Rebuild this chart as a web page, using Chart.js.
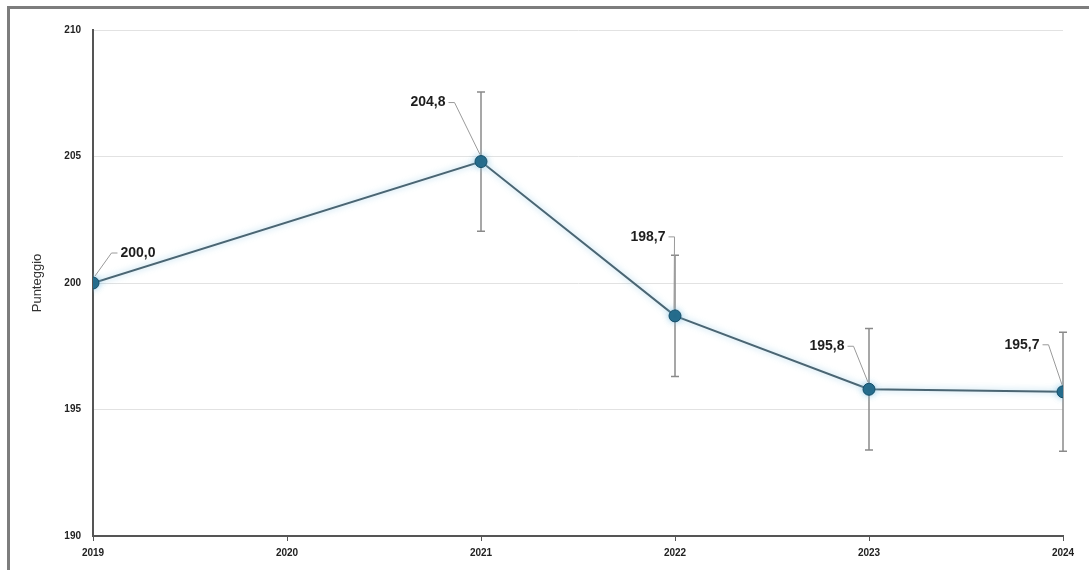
<!DOCTYPE html>
<html>
<head>
<meta charset="utf-8">
<script src="https://cdn.jsdelivr.net/npm/chart.js@4/dist/chart.umd.min.js"></script>
<style>
    body { margin: 0; background: #fff; }
    #wrap { position: relative; width: 1089px; height: 570px; }
    #cornice { position: absolute; left: 7px; top: 6px; right: 0; bottom: 0;
               border-top: 3px solid #7d7d7d; border-left: 3px solid #7d7d7d; pointer-events: none; }
</style>
</head>
<body>
<div id="wrap">
    <canvas id="chart" width="1089" height="570"></canvas>
    <div id="cornice"></div>
</div>
<script>
    const anni = [2019, 2021, 2022, 2023, 2024]
    const punteggi = [200.0, 204.8, 198.7, 195.8, 195.7]
    const errori = [0, 2.75, 2.4, 2.4, 2.35]
    const etichette = ['200,0', '204,8', '198,7', '195,8', '195,7']
    const tickY = [190, 195, 200, 205, 210]

    // spostamento delle etichette rispetto al punto (px)
    const spostamenti = [[45, -30], [-53, -59], [-27, -79], [-42, -43], [-41, -47]]

    const pluginErrori = {
        id: 'barreErrore',
        beforeDatasetsDraw(chart) {
            const ctx = chart.ctx
            const x = chart.scales.x
            const y = chart.scales.y
            ctx.save()
            ctx.strokeStyle = '#8a8a8a'
            ctx.lineWidth = 1.5
            anni.forEach((a, i) => {
                if (!errori[i]) return
                const px = x.getPixelForValue(a)
                const y1 = y.getPixelForValue(punteggi[i] + errori[i])
                const y2 = y.getPixelForValue(punteggi[i] - errori[i])
                ctx.beginPath()
                ctx.moveTo(px, y1); ctx.lineTo(px, y2)
                ctx.moveTo(px - 4, y1); ctx.lineTo(px + 4, y1)
                ctx.moveTo(px - 4, y2); ctx.lineTo(px + 4, y2)
                ctx.stroke()
            })
            ctx.restore()
        },
        beforeDatasetDraw(chart) {
            const ctx = chart.ctx
            ctx.save()
            ctx.shadowColor = 'rgba(120, 190, 225, 0.7)'
            ctx.shadowBlur = 6
        },
        afterDatasetDraw(chart) {
            chart.ctx.restore()
        },
        afterDatasetsDraw(chart) {
            const ctx = chart.ctx
            const x = chart.scales.x
            const y = chart.scales.y
            ctx.save()
            ctx.font = 'bold 14px "Liberation Sans", Arial, sans-serif'
            ctx.textAlign = 'center'
            ctx.textBaseline = 'middle'
            anni.forEach((a, i) => {
                const px = x.getPixelForValue(a)
                const py = y.getPixelForValue(punteggi[i])
                const lx = px + spostamenti[i][0]
                const ly = py + spostamenti[i][1]
                const w = ctx.measureText(etichette[i]).width
                ctx.strokeStyle = '#9a9a9a'
                ctx.lineWidth = 1
                ctx.beginPath()
                if (spostamenti[i][0] > 0) {
                    ctx.moveTo(lx - w / 2 - 3, ly)
                    ctx.lineTo(lx - w / 2 - 9, ly)
                    ctx.lineTo(px + 2, py - 7)
                } else {
                    ctx.moveTo(lx + w / 2 + 3, ly)
                    ctx.lineTo(lx + w / 2 + 9, ly)
                    ctx.lineTo(px - 1, py - 7)
                }
                ctx.stroke()
                ctx.fillStyle = '#1e1e1e'
                ctx.fillText(etichette[i], lx, ly)
            })
            ctx.restore()
        }
    }

    const data = {
        datasets: [{
            label: 'Punteggio',
            data: anni.map((a, i) => ({ x: a, y: punteggi[i] })),
            borderColor: '#4b6572',
            borderWidth: 2,
            pointRadius: 6,
            pointBackgroundColor: '#1f6585',
            pointBorderColor: '#154d66',
            pointBorderWidth: 1,
            tension: 0
        }]
    }

    const config = {
        type: 'line',
        data: data,
        options: {
            responsive: false,
            animation: false,
            layout: { padding: { left: 10, right: 26, top: 30, bottom: 0 } },
            plugins: { legend: { display: false }, tooltip: { enabled: false } },
            scales: {
                x: {
                    type: 'linear',
                    min: 2019,
                    max: 2024,
                    afterBuildTicks: (s) => { s.ticks = [2019, 2020, 2021, 2022, 2023, 2024].map(v => ({ value: v })) },
                    grid: { drawOnChartArea: false, color: '#555', tickLength: 5 },
                    border: { color: '#555', width: 2 },
                    ticks: {
                        callback: (v) => String(v),
                        color: '#222',
                        font: { family: '"Liberation Sans", Arial, sans-serif', size: 10, weight: 'bold' },
                        padding: 6,
                        maxRotation: 0
                    },
                    afterFit: (s) => { s.height = 34 }
                },
                y: {
                    min: 190,
                    max: 210,
                    afterBuildTicks: (s) => { s.ticks = tickY.map(v => ({ value: v })) },
                    grid: { color: '#e2e2e2', drawTicks: false },
                    border: { color: '#555', width: 2 },
                    ticks: {
                        color: '#222',
                        font: { family: '"Liberation Sans", Arial, sans-serif', size: 10, weight: 'bold' },
                        padding: 12
                    },
                    title: {
                        display: true,
                        text: 'Punteggio',
                        color: '#333',
                        padding: { top: 20, bottom: 4 },
                        font: { family: '"Liberation Sans", Arial, sans-serif', size: 13 }
                    },
                    afterFit: (s) => { s.width = 83 }
                }
            }
        },
        plugins: [pluginErrori]
    }

    const canvasLinea = document.getElementById('chart')
    const graficoLinea = new Chart(canvasLinea, config)
</script>
</body>
</html>
